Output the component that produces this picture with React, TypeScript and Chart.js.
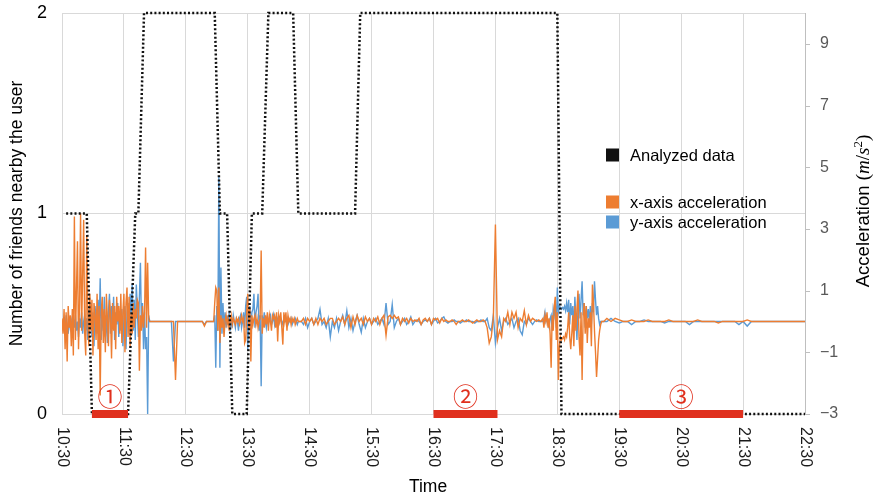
import React, { useEffect, useRef } from 'react';
import { Chart, registerables } from 'chart.js';
Chart.register(...registerables);

// ---------- axis ticks ----------
const TIME_TICKS = [0, 60, 120, 180, 240, 300, 360, 420, 480, 540, 600, 660, 720]; // minutes after 10:30
const TIME_LABELS = ['10:30', '11:30', '12:30', '13:30', '14:30', '15:30', '16:30', '17:30', '18:30', '19:30', '20:30', '21:30', '22:30'];
const LEFT_TICKS = [0, 1, 2];
const RIGHT_TICKS = [-3, -1, 1, 3, 5, 7, 9];

// ---------- analyzed data (number of friends nearby) ----------
const ANALYZED_MIN = [4, 24, 29, 64, 71, 74, 79.5, 148, 153, 160, 165, 179, 184, 194, 200, 224, 229, 284, 289, 480, 484, 720];
const ANALYZED_COUNT = [1, 1, 0, 0, 1, 1, 2, 2, 1, 1, 0, 0, 1, 1, 2, 2, 1, 1, 2, 2, 0, 0];

// ---------- periods ①②③ ----------
const PERIOD_LABELS = ['\u2460', '\u2461', '\u2462'];
const PERIOD_START = [29, 360, 540];
const PERIOD_END = [64, 422, 660];

// ---------- acceleration samples (segment start minute, step minutes, values) ----------
const SEG_A_START = 0, SEG_A_STEP = 1;
const X_ACC_A = [0.1, -0.4, 0.4, -0.9, 0.3, -1.3, 0.5, -0.2, 0.2, -0.8,
  0.4, -1.1, 3.4, -0.6, 1.0, 2.6, -0.9, 0.6, 3.5, -0.3,
  1.5, 3.3, -0.4, -1.1, 2.8, 0.2, -0.8, 0.9, -0.3, 0.7,
  -1.1, 0.6, 0.2, -0.6, 0.9, -0.9, 0.5, -2.4, 0.3, 0.8,
  -0.7, 0.4, -1.0, 0.9, 0.1, -0.8, 0.7, 0.2, -1.2, 0.6,
  -0.3, 0.5, -0.9, 0.8, 0.0, 0.5, -0.4, 0.9, -0.7, 0.3,
  0.9, -1.0, 0.6, 1.1, -0.5, 0.8, -0.8, 0.3, -0.4, 0.6,
  -0.2, 0.4, 0.1, 0.7, 0.6, -1.6, 0.2, -0.3, 0.5, -0.2,
  0.3, 2.4, -0.2, 1.9, 0.1, 0.0];
const Y_ACC_A = [0.0, -0.2, 0.1, -0.3, 0.2, -0.1, -0.4, 0.1, -0.2, 0.0,
  -0.5, 0.1, -0.2, 0.2, -0.3, 0.0, -0.5, 0.1, -0.2, 0.3,
  -0.4, 0.0, 0.2, -0.3, 0.1, -0.6, 0.4, -0.2, 0.6, -0.5,
  0.3, -0.8, 0.5, 0.1, -0.4, 0.7, -0.2, 1.4, -0.6, 0.4,
  -0.3, 0.8, -0.5, 0.2, -0.7, 0.3, 0.9, -0.4, 0.5, -0.2,
  0.8, -0.6, 0.3, -0.1, 0.6, -0.5, 0.2, -0.3, 0.4, -0.8,
  0.1, 0.5, -0.9, 0.3, 0.6, -0.4, 0.9, 0.2, 1.2, -0.3,
  0.7, -0.6, 1.2, 0.4, -0.5, 0.8, 1.9, -0.2, 0.6, -0.9,
  0.3, -0.9, -0.5, -3.0, 0.2, 0.0];

const SEG_B_START = 86, SEG_B_STEP = 2;
const X_ACC_B = [0, 0, 0, 0, 0, 0, 0, 0, 0, 0, 0, 0, -1.9, 0, 0, 0, 0, 0, 0, 0, 0, 0, 0, 0, 0, 0, -0.15, 0, 0, 0, 0];
const Y_ACC_B = [0, 0, 0, 0, 0, 0, 0, 0, 0, 0, 0, -1.3, 0, 0, 0, 0, 0, 0, 0, 0, 0, 0, 0, 0, 0, 0, -0.1, 0, 0, 0, 0];

const SEG_C_START = 147, SEG_C_STEP = 1;
const X_ACC_C = [0.0, 0.6, 1.1, 1.0, -0.3, 1.1, -0.7, 0.2, -0.2, 0.1,
  -0.5, 0.0, 0.2, -0.1, 0.1, -0.3, 0.0, 0.2, -0.1, 0.1,
  0.0, -0.1, 0.1, 0.0, 0.1, -0.1, 0.0, 0.2, 0.0, 0.1,
  -0.7, -0.6, 0.3, 0.9, -0.2, 0.4, -1.3, 0.2, -0.1, 0.1,
  0.2, -0.1, 0.1, -0.2, 0.0, 0.1, 2.3, -0.4, 0.1, -0.2,
  0.2, -0.1, 0.3, -0.3, 0.2, 0.0, -0.3, 0.2, 0.1, 0.2,
  -0.2, 0.3, -0.65, 0.2, 0.0, 0.3, -0.2, -0.75, 0.3, 0.0,
  0.3, -0.3, 0.2, 0.0, 0.1, -0.1, 0.1, 0.0, 0.1, -0.1,
  0.0, 0.1, 0.0, 0.0];
const Y_ACC_C = [0.0, 0.2, -1.5, 0.5, -0.3, 4.7, -1.5, 1.75, -0.4, 0.6,
  -0.3, 0.3, -0.2, 0.2, -0.1, 0.3, -0.3, 0.1, -0.2, 0.2,
  0.0, -0.2, 0.1, 0.0, -0.3, 0.1, 0.2, -0.2, 0.0, 0.3,
  -0.2, 0.5, 0.8, -0.9, 0.2, 0.5, -0.4, 0.3, 0.4, 0.9,
  -0.2, 0.3, 0.5, 0.9, -0.3, 0.2, -2.1, 0.2, -0.1, 0.3,
  0.0, -0.2, 0.2, -0.1, 0.1, 0.2, -0.1, 0.0, 0.2, -0.1,
  0.1, 0.0, 0.1, -0.1, 0.0, 0.1, 0.0, -0.1, 0.1, 0.0,
  0.0, 0.1, -0.1, 0.0, 0.0, 0.1, -0.1, 0.0, 0.0, 0.1,
  0.0, -0.1, 0.0, 0.0];

const SEG_D_START = 232, SEG_D_STEP = 2;
const X_ACC_D = [0.0, 0.1, -0.1, 0.1, 0.0, 0.1, -0.1, 0.1, -0.1, 0.1,
  0.0, 0.1, -0.1, 0.0, 0.1, 0.1, -0.1, 0.0, 0.1, 0.0,
  0.15, -0.1, 0.1, 0.2, -0.2, 0.15, -0.1, 0.2, 0.0, 0.1,
  -0.1, 0.15, 0.0, 0.1, -0.1, 0.1, 0.0, 0.15, -0.1, 0.1,
  0.2, -0.45, 0.15, 0.2, 0.1, 0.2, 0.1, 0.15, -0.1, 0.1,
  0.0, 0.1, -0.05, 0.1, 0.0, 0.05, 0.0, 0.1, -0.1, 0.05,
  0.1, 0.0, 0.1, -0.1, 0.1, 0.05, 0.1, -0.05, 0.1, 0.0,
  0.05, 0.0, 0.0, 0.05, 0.0, -0.1, 0.0, 0.0, 0.05, 0.0,
  0.0, 0.05, 0.0, -0.05, 0.0, 0.05, 0.0, 0.0, 0.05, 0.0,
  -0.2, -0.7, -0.5, 0.1, 3.14, -0.6, -0.3, -0.5, 0.1, 0.0,
  0.3, -0.1, 0.3, 0.1, 0.3, -0.2, 0.1, 0.0, 0.35, -0.1,
  0.2, 0.0, 0.1, 0.05, 0.0, 0.05, 0.0];
const Y_ACC_D = [0.0, -0.1, 0.1, -0.2, 0.0, 0.1, -0.1, 0.0, 0.1, 0.4,
  -0.1, 0.0, -0.2, 0.1, -0.5, 0.0, -0.2, 0.1, -0.3, 0.0,
  0.2, -0.1, 0.35, -0.2, 0.1, -0.3, 0.0, 0.2, -0.1, -0.35,
  0.1, -0.2, 0.0, 0.1, -0.1, 0.0, 0.1, -0.1, 0.0, 0.1,
  -0.1, 0.6, -0.1, 0.0, 0.55, -0.2, 0.0, 0.1, -0.1, 0.0,
  0.1, -0.1, 0.0, 0.15, -0.1, 0.0, 0.05, 0.0, -0.1, 0.0,
  0.05, 0.0, 0.1, -0.1, 0.0, 0.1, -0.05, 0.0, 0.1, 0.15,
  0.0, -0.05, 0.0, 0.0, 0.05, 0.0, 0.0, -0.05, 0.0, 0.0,
  0.05, 0.0, 0.0, 0.0, -0.05, 0.0, 0.0, 0.05, 0.0, 0.0,
  0.1, -0.2, -0.3, 0.2, -0.7, -0.2, 0.1, -0.3, 0.0, 0.1,
  -0.1, 0.0, 0.1, -0.2, 0.0, 0.1, -0.3, -0.43, 0.0, -0.1,
  0.1, 0.0, -0.1, 0.0, 0.05, 0.0, 0.0];

const SEG_E_START = 466, SEG_E_STEP = 1;
const X_ACC_E = [0.1, -0.2, 0.2, 0.0, 0.3, -0.2, 0.1, -0.4, -1.5, 0.2,
  -0.3, 0.5, 0.8, -0.6, 0.3, -1.9, -0.8, -0.5, -0.6, -0.55,
  -0.5, -0.6, -0.4, -0.5, -0.2, 0.3, -0.5, -0.9, -0.4, 0.2,
  -0.8, 0.5, -0.3, 0.4, 1.0, -0.5, -1.1, 0.3, -1.9, 0.2,
  0.6, -0.4, 0.5, -0.7, 0.1, -0.2, 0.3, -0.8, 1.2, 0.6,
  -0.3, -1.0, -1.8, -1.2, -0.6, -0.3, -0.1, 0.0, 0.0, 0.0];
const Y_ACC_E = [0.0, 0.1, 0.3, 0.0, 0.1, -0.1, -0.2, 0.1, 0.2, -0.3,
  0.4, 0.2, 0.6, -0.2, 1.1, 0.3, 0.5, 0.45, 0.4, 0.45,
  0.4, 0.5, 0.35, 0.6, 0.3, 0.7, -0.1, 0.6, 0.2, 0.5,
  -0.3, 0.8, 0.1, -0.6, 0.4, 0.9, 0.1, 0.7, 1.3, 0.2,
  0.6, -0.2, 0.5, 0.1, 0.4, 0.0, 0.5, -0.1, 0.6, 0.3,
  1.3, 0.7, 0.2, 0.5, 0.1, -0.1, 0.0, 0.0, 0.0, 0.0];

const SEG_F_START = 528, SEG_F_STEP = 4;
const X_ACC_F = [0.1, 0.0, 0.1, 0.05, 0.0, 0.0, 0.05, 0.0, 0.0, 0.0,
  0.05, 0.0, 0.0, 0.0, 0.0, 0.05, 0.0, 0.0, 0.0, 0.0,
  0.0, 0.0, 0.05, 0.0, 0.0, 0.0, 0.0, -0.05, 0.0, 0.0,
  0.0, 0.0, 0.0, 0.0, 0.05, 0.0, 0.0, 0.0, 0.0, 0.0,
  0.0, 0.0, 0.0, 0.0, 0.0, 0.0, 0.0, 0.0, 0.0];
const Y_ACC_F = [0.0, 0.1, 0.0, -0.05, 0.0, 0.0, -0.1, 0.0, 0.0, 0.05,
  0.0, 0.0, 0.0, 0.0, -0.05, 0.0, 0.0, 0.0, 0.0, 0.0,
  -0.1, 0.0, 0.0, 0.0, 0.0, 0.0, 0.0, 0.0, 0.0, 0.0,
  0.0, 0.0, -0.1, 0.0, -0.15, 0.0, 0.0, 0.0, 0.0, 0.0,
  0.0, 0.0, 0.0, 0.0, 0.0, 0.0, 0.0, 0.0, 0.0];

// ---------- styles ----------
const SANS = '"Liberation Sans", Arial, sans-serif';
const SERIF = '"Liberation Serif", "Times New Roman", serif';
const ORANGE = '#ED7D31';
const BLUE = '#5B9BD5';
const RED = '#E0301E';
const GRID = '#d9d9d9';

type Pt = { x: number; y: number };
function seg(start: number, step: number, vals: number[]): Pt[] {
  return vals.map((v, i) => ({ x: start + i * step, y: v }));
}
function series(parts: [number, number, number[]][]): Pt[] {
  const out: Pt[] = [];
  parts.forEach(([s, st, v]) => out.push(...seg(s, st, v)));
  return out;
}

const overlayPlugin = {
  id: 'overlay',
  afterDraw(chart: any) {
    const { ctx, chartArea } = chart;
    const xs = chart.scales.x;
    const ys = chart.scales.y;
    const y2 = chart.scales.y2;
    ctx.save();

    // x tick labels (rotated clockwise)
    ctx.fillStyle = '#1a1a1a';
    ctx.font = `16px ${SANS}`;
    ctx.textAlign = 'left';
    ctx.textBaseline = 'middle';
    TIME_LABELS.forEach((lab, i) => {
      const x = xs.getPixelForValue(TIME_TICKS[i]);
      ctx.save();
      ctx.translate(x, chartArea.bottom + 13);
      ctx.rotate(Math.PI / 2);
      ctx.fillText(lab, 0, 0);
      ctx.restore();
    });

    // left ticks
    ctx.font = `18px ${SANS}`;
    ctx.textAlign = 'right';
    ctx.fillStyle = '#000';
    LEFT_TICKS.forEach((v) => ctx.fillText(String(v), chartArea.left - 15, ys.getPixelForValue(v)));

    // right ticks
    ctx.strokeStyle = '#bfbfbf';
    ctx.lineWidth = 1;
    ctx.fillStyle = '#595959';
    ctx.font = `16px ${SANS}`;
    ctx.textAlign = 'left';
    RIGHT_TICKS.forEach((v) => {
      const y = y2.getPixelForValue(v);
      const yy = Math.round(y) + 0.5;
      ctx.beginPath();
      ctx.moveTo(chartArea.right, yy);
      ctx.lineTo(chartArea.right + 5, yy);
      ctx.stroke();
      ctx.fillText(v < 0 ? '\u2212' + Math.abs(v) : String(v), chartArea.right + 15, y);
    });

    // axis titles
    ctx.fillStyle = '#000';
    ctx.font = `17.5px ${SANS}`;
    ctx.textAlign = 'center';
    ctx.textBaseline = 'middle';
    ctx.save();
    ctx.translate(17, (chartArea.top + chartArea.bottom) / 2);
    ctx.rotate(-Math.PI / 2);
    ctx.fillText('Number of friends nearby the user', 0, 0);
    ctx.restore();
    ctx.fillText('Time', 428, 487);

    // right title with math part
    const parts = [
      { t: 'Acceleration ', f: `18.5px ${SANS}`, dy: 0 },
      { t: '(', f: `19px ${SERIF}`, dy: 0 },
      { t: 'm', f: `italic 19px ${SERIF}`, dy: 0 },
      { t: '/', f: `19px ${SERIF}`, dy: 0 },
      { t: 's', f: `italic 19px ${SERIF}`, dy: 0 },
      { t: '2', f: `13px ${SERIF}`, dy: -7 },
      { t: ')', f: `19px ${SERIF}`, dy: 0 },
    ];
    let total = 0;
    const widths = parts.map((p) => {
      ctx.font = p.f;
      const w = ctx.measureText(p.t).width;
      total += w;
      return w;
    });
    ctx.save();
    ctx.translate(863, 211);
    ctx.rotate(-Math.PI / 2);
    ctx.textAlign = 'left';
    ctx.textBaseline = 'alphabetic';
    let cx = -total / 2;
    parts.forEach((p, i) => {
      ctx.font = p.f;
      ctx.fillText(p.t, cx, 6 + p.dy);
      cx += widths[i];
    });
    ctx.restore();

    // legend
    const legend = [
      { label: 'Analyzed data', color: '#111', y: 155 },
      { label: 'x-axis acceleration', color: ORANGE, y: 202 },
      { label: 'y-axis acceleration', color: BLUE, y: 222 },
    ];
    ctx.font = `16.5px ${SANS}`;
    ctx.textAlign = 'left';
    ctx.textBaseline = 'middle';
    legend.forEach((it) => {
      ctx.fillStyle = it.color;
      ctx.fillRect(606, it.y - 6.5, 13, 13);
      ctx.fillStyle = '#000';
      ctx.fillText(it.label, 630, it.y + 1);
    });

    // circled period numbers
    ctx.fillStyle = RED;
    ctx.font = `25px "Noto Sans CJK JP", sans-serif`;
    ctx.textAlign = 'center';
    ctx.textBaseline = 'middle';
    PERIOD_LABELS.forEach((lab, i) => {
      const x = xs.getPixelForValue((PERIOD_START[i] + PERIOD_END[i]) / 2);
      ctx.fillText(lab, x, ys.getPixelForValue(0) - 18);
    });

    ctx.restore();
  },
};

export default function App() {
  const ref = useRef<HTMLCanvasElement | null>(null);
  useEffect(() => {
    const canvas = ref.current;
    if (!canvas) return;
    const xData = series([
      [SEG_A_START, SEG_A_STEP, X_ACC_A], [SEG_B_START, SEG_B_STEP, X_ACC_B], [SEG_C_START, SEG_C_STEP, X_ACC_C],
      [SEG_D_START, SEG_D_STEP, X_ACC_D], [SEG_E_START, SEG_E_STEP, X_ACC_E], [SEG_F_START, SEG_F_STEP, X_ACC_F],
    ]);
    const yData = series([
      [SEG_A_START, SEG_A_STEP, Y_ACC_A], [SEG_B_START, SEG_B_STEP, Y_ACC_B], [SEG_C_START, SEG_C_STEP, Y_ACC_C],
      [SEG_D_START, SEG_D_STEP, Y_ACC_D], [SEG_E_START, SEG_E_STEP, Y_ACC_E], [SEG_F_START, SEG_F_STEP, Y_ACC_F],
    ]);
    const analyzed = ANALYZED_MIN.map((m, i) => ({ x: m, y: ANALYZED_COUNT[i] }));
    const periodSets = PERIOD_START.map((s, i) => ({
      label: 'period ' + (i + 1),
      data: [{ x: s, y: 0 }, { x: PERIOD_END[i], y: 0 }],
      borderColor: RED,
      borderWidth: 8,
      borderCapStyle: 'butt' as const,
      pointRadius: 0,
      yAxisID: 'y',
      order: -1,
      clip: 6,
    }));

    const chart = new Chart(canvas, {
      type: 'line',
      data: {
        datasets: [
          ...periodSets,
          {
            label: 'Analyzed data',
            data: analyzed,
            borderColor: '#111',
            borderWidth: 2.5,
            borderDash: [2, 2.2],
            pointRadius: 0,
            yAxisID: 'y',
            order: 0,
            clip: 4,
          },
          {
            label: 'x-axis acceleration',
            data: xData,
            borderColor: ORANGE,
            borderWidth: 1.4,
            pointRadius: 0,
            yAxisID: 'y2',
            order: 1,
          },
          {
            label: 'y-axis acceleration',
            data: yData,
            borderColor: BLUE,
            borderWidth: 1.4,
            pointRadius: 0,
            yAxisID: 'y2',
            order: 2,
          },
        ] as any,
      },
      options: {
        responsive: false,
        animation: false,
        events: [],
        layout: { padding: { left: 62, top: 13, right: 68, bottom: 84 } },
        plugins: { legend: { display: false }, tooltip: { enabled: false } },
        scales: {
          x: {
            type: 'linear',
            min: 0,
            max: 720,
            afterBuildTicks: (s: any) => { s.ticks = TIME_TICKS.map((v) => ({ value: v })); },
            ticks: { display: false },
            grid: { color: GRID, drawTicks: false },
            border: { display: false },
          },
          y: {
            type: 'linear',
            position: 'left',
            min: 0,
            max: 2,
            afterBuildTicks: (s: any) => { s.ticks = LEFT_TICKS.map((v) => ({ value: v })); },
            ticks: { display: false },
            grid: { color: GRID, drawTicks: false },
            border: { display: false },
          },
          y2: {
            type: 'linear',
            position: 'right',
            min: -3,
            max: 10,
            afterBuildTicks: (s: any) => { s.ticks = RIGHT_TICKS.map((v) => ({ value: v })); },
            ticks: { display: false },
            grid: { drawOnChartArea: false, drawTicks: false },
            border: { display: true, color: '#bfbfbf' },
          },
        },
      } as any,
      plugins: [overlayPlugin],
    });
    return () => chart.destroy();
  }, []);

  return (
    <div style={{ position: 'fixed', left: 0, top: 0, width: 873, height: 498, background: '#fff' }}>
      <canvas ref={ref} width={873} height={498} style={{ width: 873, height: 498, display: 'block' }} />
    </div>
  );
}
